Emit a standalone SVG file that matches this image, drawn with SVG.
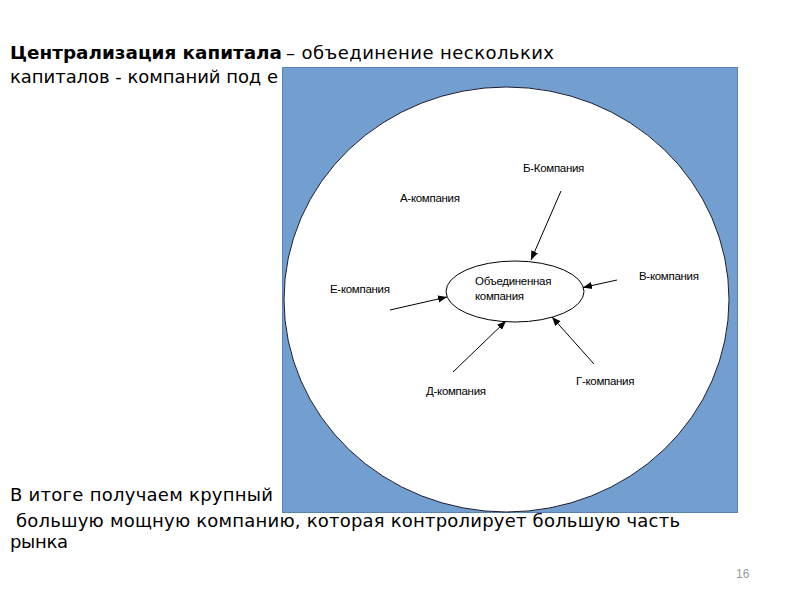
<svg xmlns="http://www.w3.org/2000/svg" width="800" height="600" viewBox="0 0 800 600">
  <style>
    .title { font-family: "DejaVu Sans", "Liberation Sans", sans-serif; font-size: 18px; fill: #000; }
    .b { font-weight: bold; }
    .body { font-family: "DejaVu Sans", "Liberation Sans", sans-serif; font-size: 18px; fill: #000; }
    .lbl { font-family: "Liberation Sans", Arial, sans-serif; font-size: 11.5px; fill: #000; letter-spacing: -0.3px; }
    .arrow { stroke: #000; stroke-width: 1; fill: none; marker-end: url(#ah); }
  </style>
  <defs>
    <marker id="ah" viewBox="0 0 10 10" refX="10" refY="5" markerWidth="9" markerHeight="9" markerUnits="userSpaceOnUse" orient="auto">
      <path d="M0,1 L10,5 L0,9 Z" fill="#000"/>
    </marker>
  </defs>
  <rect width="800" height="600" fill="#fff"/>

  <g id="title-text">
    <text class="title b" x="10" y="59" textLength="272" lengthAdjust="spacingAndGlyphs">Централизация капитала</text>
    <text class="title" x="286" y="59" textLength="268" lengthAdjust="spacing">– объединение нескольких</text>
    <text class="title" x="10" y="83" textLength="268" lengthAdjust="spacing">капиталов - компаний под е</text>
  </g>

  <g id="background">
    <rect x="282.5" y="67.5" width="455" height="445" fill="#729fcf" stroke="#5a82b0" stroke-width="1"/>
  </g>

  <g id="market-circle">
    <ellipse cx="506.5" cy="299.5" rx="222.5" ry="212.5" fill="#fff" stroke="#1a1a2e" stroke-width="1"/>
  </g>

  <g id="merged-company">
    <ellipse cx="515" cy="291.5" rx="69" ry="30.5" fill="#fff" stroke="#000" stroke-width="1"/>
    <text class="lbl" x="475" y="285">Объединенная</text>
    <text class="lbl" x="475" y="300">компания</text>
  </g>

  <g id="company-a"><text class="lbl" x="400" y="202">А-компания</text></g>
  <g id="company-b"><text class="lbl" x="523" y="172">Б-Компания</text></g>
  <g id="company-v"><text class="lbl" x="639" y="280">В-компания</text></g>
  <g id="company-g"><text class="lbl" x="576" y="385">Г-компания</text></g>
  <g id="company-d"><text class="lbl" x="426" y="395">Д-компания</text></g>
  <g id="company-e"><text class="lbl" x="330" y="293">Е-компания</text></g>

  <g id="connectors">
    <line class="arrow" x1="561" y1="191" x2="531" y2="260"/>
    <line class="arrow" x1="617" y1="280" x2="583" y2="287.5"/>
    <line class="arrow" x1="390" y1="310" x2="447" y2="297"/>
    <line class="arrow" x1="453" y1="372" x2="506" y2="321"/>
    <line class="arrow" x1="594" y1="364" x2="552" y2="317"/>
  </g>

  <g id="bottom-text">
    <text class="body" x="10" y="501" textLength="263" lengthAdjust="spacing">В итоге получаем крупный</text>
    <text class="body" x="16" y="527" textLength="664" lengthAdjust="spacing">большую мощную компанию, которая контролирует большую часть</text>
    <text class="body" x="10" y="548" textLength="58" lengthAdjust="spacing">рынка</text>
  </g>

  <g id="page-number">
    <text x="736" y="578" font-family="Liberation Sans, Arial, sans-serif" font-size="12" fill="#999">16</text>
  </g>
</svg>
